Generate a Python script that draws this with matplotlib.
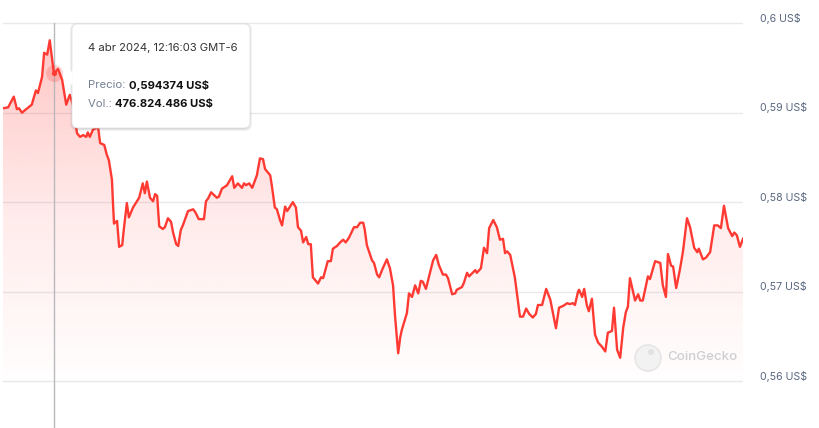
import numpy as np
import matplotlib
matplotlib.use("Agg")
import matplotlib.pyplot as plt
from matplotlib.colors import LinearSegmentedColormap
from matplotlib.patches import Polygon, FancyBboxPatch, Circle

# ---- data: minutes since window start, price in US$ ----
minutes = [0, 10, 21, 27, 31, 37, 43, 56, 64, 68, 76, 80, 86, 91, 97, 99, 107, 115, 123, 130,
           136, 142, 144, 150, 156, 162, 165, 169, 175, 185, 189, 197, 202, 206, 212, 214, 216, 222, 226, 232,
           235, 241, 245, 253, 265, 272, 276, 280, 286, 292, 296, 300, 304, 311, 315, 321, 327, 331, 337, 341,
           346, 350, 360, 370, 374, 381, 391, 395, 399, 405, 416, 420, 426, 436, 446, 450, 457, 465, 469, 473,
           479, 485, 494, 500, 506, 510, 520, 523, 529, 533, 539, 543, 549, 553, 564, 570, 574, 580, 584, 590,
           594, 599, 603, 613, 619, 623, 632, 638, 642, 650, 656, 662, 667, 673, 683, 689, 695, 701, 704, 708,
           718, 722, 728, 732, 739, 747, 753, 759, 763, 769, 773, 776, 786, 790, 796, 802, 808, 813, 817, 823,
           831, 837, 843, 848, 856, 862, 866, 874, 880, 883, 893, 897, 903, 907, 919, 922, 930, 936, 942, 946,
           954, 961, 967, 973, 977, 981, 987, 996, 1006, 1012, 1018, 1024, 1031, 1037, 1041, 1049, 1057, 1065, 1076, 1082,
           1090, 1098, 1103, 1109, 1113, 1119, 1121, 1127, 1131, 1136, 1140, 1146, 1152, 1158, 1166, 1172, 1177, 1185, 1189, 1195,
           1201, 1207, 1212, 1216, 1220, 1230, 1236, 1240, 1245, 1255, 1259, 1269, 1279, 1284, 1290, 1294, 1300, 1304, 1310, 1317,
           1323, 1331, 1337, 1345, 1351, 1354, 1362, 1368, 1376, 1384, 1391, 1397, 1403, 1411, 1419, 1423, 1428, 1434, 1440]
prices = [0.5905, 0.5906, 0.5918, 0.5904, 0.5905, 0.5900, 0.5903, 0.5909, 0.5925, 0.5922,
          0.5940, 0.5967, 0.5965, 0.5981, 0.5953, 0.5944, 0.5949, 0.5937, 0.5909, 0.5920,
          0.5909, 0.5886, 0.5877, 0.5873, 0.5875, 0.5873, 0.5878, 0.5873, 0.5881, 0.5884,
          0.5866, 0.5864, 0.5853, 0.5847, 0.5825, 0.5799, 0.5776, 0.5779, 0.5750, 0.5752,
          0.5769, 0.5799, 0.5783, 0.5794, 0.5805, 0.5821, 0.5810, 0.5823, 0.5805, 0.5801,
          0.5809, 0.5807, 0.5773, 0.5770, 0.5772, 0.5782, 0.5778, 0.5766, 0.5753, 0.5751,
          0.5769, 0.5774, 0.5790, 0.5792, 0.5789, 0.5781, 0.5781, 0.5801, 0.5804, 0.5811,
          0.5805, 0.5806, 0.5815, 0.5819, 0.5829, 0.5816, 0.5821, 0.5816, 0.5821, 0.5819,
          0.5821, 0.5816, 0.5830, 0.5849, 0.5848, 0.5837, 0.5830, 0.5819, 0.5794, 0.5792,
          0.5780, 0.5774, 0.5795, 0.5790, 0.5800, 0.5794, 0.5772, 0.5768, 0.5755, 0.5761,
          0.5753, 0.5753, 0.5716, 0.5709, 0.5716, 0.5715, 0.5734, 0.5734, 0.5748, 0.5751,
          0.5755, 0.5758, 0.5755, 0.5760, 0.5772, 0.5772, 0.5777, 0.5777, 0.5769, 0.5752,
          0.5735, 0.5732, 0.5719, 0.5716, 0.5726, 0.5736, 0.5726, 0.5707, 0.5672, 0.5631,
          0.5649, 0.5657, 0.5676, 0.5698, 0.5694, 0.5707, 0.5698, 0.5712, 0.5711, 0.5703,
          0.5721, 0.5735, 0.5741, 0.5730, 0.5719, 0.5719, 0.5715, 0.5697, 0.5698, 0.5702,
          0.5705, 0.5710, 0.5721, 0.5717, 0.5724, 0.5721, 0.5726, 0.5749, 0.5743, 0.5771,
          0.5780, 0.5772, 0.5758, 0.5759, 0.5743, 0.5745, 0.5741, 0.5716, 0.5672, 0.5672,
          0.5681, 0.5675, 0.5671, 0.5675, 0.5685, 0.5685, 0.5703, 0.5691, 0.5659, 0.5682,
          0.5684, 0.5687, 0.5686, 0.5687, 0.5685, 0.5700, 0.5702, 0.5694, 0.5703, 0.5685,
          0.5678, 0.5692, 0.5652, 0.5643, 0.5638, 0.5633, 0.5654, 0.5656, 0.5682, 0.5635,
          0.5626, 0.5660, 0.5677, 0.5683, 0.5715, 0.5690, 0.5697, 0.5690, 0.5690, 0.5717,
          0.5714, 0.5734, 0.5732, 0.5707, 0.5694, 0.5742, 0.5729, 0.5728, 0.5704, 0.5724,
          0.5744, 0.5782, 0.5772, 0.5749, 0.5744, 0.5748, 0.5736, 0.5738, 0.5744, 0.5774,
          0.5774, 0.5771, 0.5796, 0.5771, 0.5762, 0.5766, 0.5763, 0.5750, 0.5759]
ytick_values = [0.56, 0.57, 0.58, 0.59, 0.60]
ytick_labels = ["0,56 US$", "0,57 US$", "0,58 US$", "0,59 US$", "0,6 US$"]
hover_index = 15
tooltip_date = "4 abr 2024, 12:16:03 GMT-6"
tooltip_price = "0,594374 US$"
tooltip_volume = "476.824.486 US$"

FONT = ["Inter", "DejaVu Sans"]
LINE = "#ff3a33"
W, H = 820, 428

fig = plt.figure(figsize=(W / 100, H / 100), dpi=100)
fig.patch.set_facecolor("white")

ax_left, ax_right = 3, 743
ax = fig.add_axes([ax_left / W, 0, (ax_right - ax_left) / W, 1])
ppu = (381 - 23.3) / 0.04  # pixels per price unit
ymax = 0.60 + 23.3 / ppu
ymin = 0.56 - (H - 381) / ppu
ax.set_facecolor("none")
for s in ax.spines.values():
    s.set_visible(False)
ax.set_xticks([])
ax.set_yticks([])

# gridlines
for v in ytick_values:
    ax.axhline(v, color="#e9e9ec", lw=1.0, zorder=0)

# gradient fill
t = np.array(minutes, dtype=float)
p = np.array(prices, dtype=float)
verts = np.column_stack([np.r_[t[0], t, t[-1]], np.r_[ymin, p, ymin]])
poly = Polygon(verts, closed=True, facecolor="none", edgecolor="none")
ax.add_patch(poly)
cmap = LinearSegmentedColormap.from_list(
    "g", [(1.0, 0.227, 0.2, 0.0), (1.0, 0.227, 0.2, 0.10), (1.0, 0.227, 0.2, 0.28)])
grad = np.linspace(0, 1, 256).reshape(-1, 1)
im = ax.imshow(grad, extent=[t[0], t[-1], ymin + 0.004, p.max()], origin="lower",
               aspect="auto", cmap=cmap, zorder=1, interpolation="bicubic")
im.set_clip_path(poly)
ax.set_xlim(minutes[0], minutes[-1])
ax.set_ylim(ymin, ymax)

# line
ax.plot(t, p, color=LINE, lw=1.7, zorder=3, solid_joinstyle="round")

# crosshair
ht, hp = t[hover_index], p[hover_index]
ax.plot([ht, ht], [ymin, 0.60], color="#b9b9bd", lw=1.0, zorder=2)
ax.scatter([ht], [hp], s=150, color=LINE, alpha=0.22, lw=0, zorder=4)
ax.scatter([ht], [hp], s=14, color=LINE, lw=0, zorder=5)

# y labels on right
for v, lab in zip(ytick_values, ytick_labels):
    ax.text(1 + 17 / (ax_right - ax_left), v + 5 / ppu, lab, transform=ax.get_yaxis_transform(),
            ha="left", va="center", fontsize=7.6, color="#58667e", family=FONT)

# overlay in pixel coords
ov = fig.add_axes([0, 0, 1, 1])
ov.set_xlim(0, W)
ov.set_ylim(H, 0)
ov.axis("off")
ov.patch.set_alpha(0)

# watermark
ov.add_patch(Circle((648, 358), 13, facecolor="#f2f2f2", edgecolor="#e6e6e6", lw=1.2, zorder=1))
ov.add_patch(Circle((651, 352), 3.0, facecolor="#e2e2e2", edgecolor="none", zorder=1))
ov.text(667, 357, "CoinGecko", fontsize=9.6, color="#cfcfd3", family=FONT,
        ha="left", va="center", fontweight="medium", zorder=1, clip_on=False)

# tooltip
bx0, by0, bx1, by1 = 72, 24, 250, 128
for off, a in [(3, 0.05), (2, 0.06), (1, 0.08)]:
    ov.add_patch(FancyBboxPatch((bx0 - off + 1, by0 - off + 2), bx1 - bx0 + 2 * off - 2, by1 - by0 + 2 * off - 2,
                                boxstyle="round,pad=0,rounding_size=7", facecolor="#000000",
                                alpha=a, edgecolor="none", zorder=6))
ov.add_patch(FancyBboxPatch((bx0, by0), bx1 - bx0, by1 - by0,
                            boxstyle="round,pad=0,rounding_size=6", facecolor="white",
                            edgecolor="#e4e4e7", lw=0.6, zorder=7))
ov.add_patch(Polygon([[bx0 + 0.8, 70], [65, 78], [bx0 + 0.8, 86]], closed=True,
                     facecolor="white", edgecolor="none", zorder=8))
FS = 8.1
ov.text(88, 48, tooltip_date, fontsize=FS, color="#333333", family=FONT, ha="left", va="center", zorder=9)
tp = ov.text(88, 85, "Precio: ", fontsize=FS, color="#748094", family=FONT, ha="left", va="center", zorder=9)
ov.annotate(tooltip_price, xycoords=tp, xy=(1, 0.5), va="center", ha="left", fontsize=FS,
            color="#111111", family=FONT, fontweight="bold", zorder=9)
tv = ov.text(88, 104, "Vol.: ", fontsize=FS, color="#748094", family=FONT, ha="left", va="center", zorder=9)
ov.annotate(tooltip_volume, xycoords=tv, xy=(1, 0.5), va="center", ha="left", fontsize=FS,
            color="#111111", family=FONT, fontweight="bold", zorder=9)

fig.savefig("out.png", dpi=100, facecolor="white")
